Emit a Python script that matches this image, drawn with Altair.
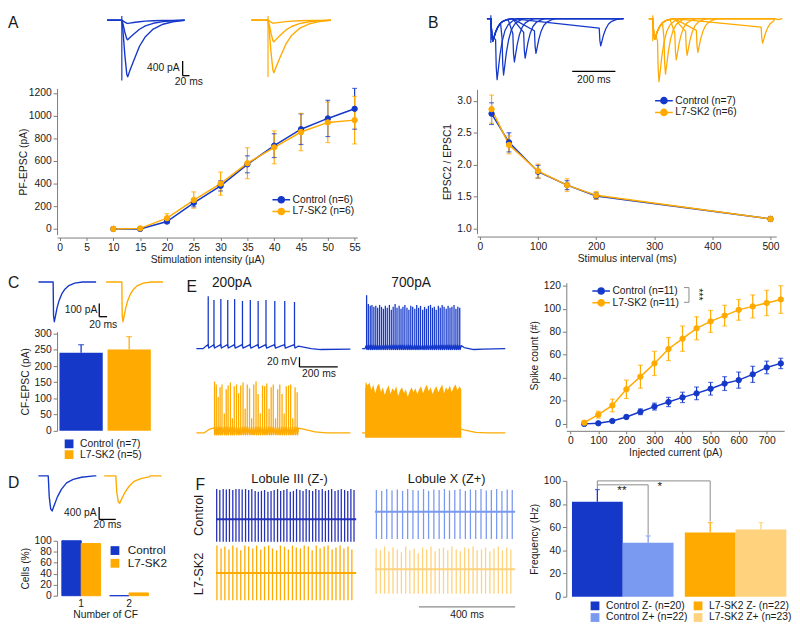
import altair as alt
import pandas as pd

FONT = "Liberation Sans, Arial, sans-serif"
BLUE = "#1538c9"
ORANGE = "#ffaa00"
LBLUE = "#7a99f0"
LORANGE = "#ffd27d"
NAVY = "#2430b8"
GRAY = "#8a8a8a"
TXT = "#1a1a1a"
FS = 10.5

# ---------------- Panel A: PF-EPSC vs stimulation intensity ----------------
A_STIM = [10, 15, 20, 25, 30, 35, 40, 45, 50, 55]
A_CTRL = [0, 0, 65, 230, 380, 570, 735, 880, 975, 1060]
A_CTRL_ERR = [0, 0, 15, 35, 45, 75, 105, 135, 160, 180]
A_SK2 = [0, 5, 95, 255, 400, 580, 720, 855, 940, 960]
A_SK2_ERR = [0, 0, 40, 72, 102, 137, 145, 165, 178, 210]
A_GROUPS = ["Control (n=6)", "L7-SK2 (n=6)"]

# ---------------- Panel B: paired-pulse ratio ----------------
B_ISI = [20, 50, 100, 150, 200, 500]
B_CTRL = [2.80, 2.35, 1.89, 1.68, 1.51, 1.15]
B_CTRL_ERR = [0.17, 0.15, 0.10, 0.07, 0.05, 0.03]
B_SK2 = [2.87, 2.31, 1.90, 1.68, 1.52, 1.15]
B_SK2_ERR = [0.22, 0.14, 0.11, 0.10, 0.06, 0.04]
B_GROUPS = ["Control (n=7)", "L7-SK2 (n=6)"]

# ---------------- Panel C: CF-EPSC amplitude ----------------
C_GROUPS = ["Control (n=7)", "L7-SK2 (n=5)"]
C_VALS = [241, 251]
C_ERR = [25, 40]

# ---------------- Panel D: number of CF ----------------
D_NCF = ["1", "1", "2", "2"]
D_GROUP = ["Control", "L7-SK2", "Control", "L7-SK2"]
D_VALS = [100, 95, 0, 5]

# ---------------- Panel E: spike count vs injected current ----------------
E_CURR = [50, 100, 150, 200, 250, 300, 350, 400, 450, 500, 550, 600, 650, 700, 750]
E_CTRL = [0, 0.5, 2.5, 6, 10.5, 15, 19, 23, 26.5, 30.5, 35, 38, 43, 49, 52.5]
E_CTRL_ERR = [0.5, 1, 1, 1.5, 2.5, 3, 4, 4.5, 5.5, 5.5, 6, 7, 7, 5.5, 4.5]
E_SK2 = [1, 8, 16, 30, 41, 52.5, 65, 74, 83, 89, 94, 99, 102, 105, 108]
E_SK2_ERR = [1.5, 3, 5.5, 8, 10, 10.5, 10, 11, 10, 9.5, 9, 9, 10, 11, 12]
E_GROUPS = ["Control (n=11)", "L7-SK2 (n=11)"]

# ---------------- Panel F: firing frequency ----------------
F_COND = ["Control Z- (n=20)", "Control Z+ (n=22)", "L7-SK2 Z- (n=22)", "L7-SK2 Z+ (n=23)"]
F_GRP = ["Control", "Control", "L7-SK2", "L7-SK2"]
F_ZONE = ["Z-", "Z+", "Z-", "Z+"]
F_VALS = [82, 46.5, 55.5, 58]
F_ERR = [10.5, 6, 8.5, 6]

# ---------------- example traces ----------------
TPL_A_S = [0, 3, 9, 15, 18, 24, 36, 54, 72, 96, 126, 156, 192]
TPL_A_F = [0, 0.15, 0.6, 0.95, 1.0, 0.9, 0.72, 0.46, 0.29, 0.155, 0.07, 0.026, 0]
A_TR_CTRL = [-1550, -534, -85]
A_TR_SK2 = [-1440, -590, -80]
TPL_B_S = [0, 2, 5, 9, 14, 22, 32, 45, 60, 80, 100]
TPL_B_F = [0, 0.35, 0.8, 1.0, 0.85, 0.6, 0.38, 0.2, 0.1, 0.04, 0]
B_TR_ISI = [20, 50, 100, 150, 200, 500]
B_TR_CTRL_A1 = -240
B_TR_CTRL_A2 = [-650, -600, -460, -420, -370, -290]
B_TR_SK2_A1 = -220
B_TR_SK2_A2 = [-670, -590, -440, -390, -360, -260]
TPL_C_S = [0, 1, 3, 6, 10, 15, 22, 30, 40, 55, 75]
TPL_C_F = [0, 0.85, 1.0, 0.85, 0.65, 0.47, 0.3, 0.18, 0.09, 0.03, 0]
C_TR_AMP = [-300, -300]
TPL_D_S = [0, 1.2, 3, 4.7, 7, 11, 16, 22, 30, 40, 55]
TPL_D_F = [0, 0.6, 0.95, 1.0, 0.85, 0.6, 0.38, 0.2, 0.1, 0.04, 0]
D_TR_AMP = [-1140, -890]
E_B200_SPK = [62, 92, 128, 164, 200, 241, 282, 323, 364, 410, 462, 513]
E_B200_PK = [38, 30, 32, 30, 32, 28, 30, 28, 30, 28, 28, 26]
E_B700_SPK = [890, 899, 909, 918, 928, 938, 948, 958, 968, 978, 988, 998, 1009, 1019,
              1029, 1039, 1049, 1060, 1070, 1080, 1090, 1101, 1111, 1121, 1131, 1142,
              1152, 1162, 1172, 1183, 1193, 1203, 1213, 1224, 1234, 1244, 1254, 1265,
              1275, 1285, 1295, 1306, 1316, 1326, 1336, 1347, 1357, 1367, 1377]
E_B700_PK = [40, 22, 18, 20, 16, 18, 14, 20, 16, 12, 18, 14, 20, 10, 16, 22, 14, 18,
             12, 16, 20, 14, 10, 18, 16, 12, 20, 14, 18, 10, 16, 12, 18, 20, 14, 16,
             10, 18, 14, 20, 16, 12, 18, 14, 16, 20, 12, 16, 14]
E_O200_SPK = [95, 104, 114, 124, 134, 146, 156, 166, 178, 188, 198, 210, 221, 232,
              244, 255, 266, 278, 289, 300, 312, 323, 334, 346, 357, 368, 380, 391,
              402, 414, 425, 436, 448, 459, 470, 482, 493, 504, 516, 527]
E_O200_PK = [36, 30, 4, 24, 30, -30, 20, 28, 34, -40, 26, 30, 12, 28, 34, -20, 30, 22,
             -40, 30, 36, 10, -30, 28, 26, 32, -20, 24, 30, -40, 20, 30, 10, -30, 26,
             28, 30, -40, 24, 14]
E_O700_ENV_T = [882, 886, 895, 905, 915, 925, 935, 945, 955, 965, 975, 985, 995, 1005,
                1015, 1025, 1035, 1045, 1055, 1065, 1075, 1085, 1095, 1105, 1115, 1125,
                1135, 1145, 1155, 1165, 1175, 1185, 1195, 1205, 1215, 1225, 1235, 1245,
                1255, 1265, 1275, 1285, 1295, 1305, 1315, 1325, 1335, 1345, 1355, 1365,
                1375, 1385]
E_O700_ENV_V = [20, 36, 28, 34, 18, 30, 12, 26, 32, 14, 24, 8, 20, 28, 10, 22, 16, 26,
                6, 18, 24, 12, 20, 4, 16, 24, 14, 22, 10, 20, 26, 12, 22, 30, 16, 24,
                10, 20, 26, 14, 22, 30, 12, 24, 18, 28, 14, 24, 30, 18, 26, 20]
F_CZM_SPK = [3, 16, 30, 43, 56, 70, 83, 96, 109, 123, 136, 149, 163, 176, 189, 202, 216,
             229, 242, 256, 269, 282, 295, 309, 322, 335, 349, 362, 375, 388, 402, 415,
             428, 442, 455, 468, 481, 495, 508, 521, 535, 548, 561, 574]
F_CZM_UP = [320, 310, 320, 315, 320, 310, 320, 320, 315, 320, 310, 320, 300, 290, 300,
            310, 290, 300, 310, 320, 300, 310, 320, 290, 300, 320, 310, 300, 320, 310,
            300, 320, 310, 320, 300, 310, 320, 300, 310, 320, 310, 300, 320, 310]
F_CZP_SPK = [6, 28, 49, 71, 93, 115, 136, 158, 180, 202, 223, 245, 267, 289, 310, 332,
             354, 376, 397, 419, 441, 463, 484, 506, 528, 550, 571]
F_CZP_UP = [230, 220, 240, 225, 235, 220, 240, 230, 225, 240, 220, 235, 230, 240, 225,
            230, 240, 220, 235, 230, 240, 225, 230, 240, 220, 235, 230]
F_LZM_SPK = [4, 21, 37, 54, 70, 87, 103, 120, 136, 153, 169, 186, 202, 219, 235, 252,
             268, 285, 301, 318, 334, 351, 367, 384, 400, 417, 433, 450, 466, 483, 499,
             516, 532, 549, 565]
F_LZM_UP = [290, 260, 280, 250, 290, 270, 240, 290, 280, 260, 290, 250, 280, 290, 260,
            240, 290, 280, 250, 290, 270, 260, 290, 280, 240, 290, 260, 280, 290, 250,
            270, 290, 260, 280, 250]
F_LZP_SPK = [5, 23, 40, 58, 75, 93, 110, 128, 145, 163, 180, 198, 215, 233, 250, 268,
             285, 303, 320, 338, 355, 373, 390, 408, 425, 443, 460, 478, 495, 513, 530,
             548, 565]
F_LZP_UP = [220, 200, 240, 190, 230, 210, 180, 240, 200, 220, 170, 230, 210, 240, 190,
            220, 230, 200, 240, 210, 190, 230, 220, 240, 200, 210, 230, 190, 220, 240,
            200, 230, 210]

ONE = pd.DataFrame({"k": [0]})
SYM = "M-2,0H2M-0.7,0A0.7,0.7,0,1,1,0.7,0A0.7,0.7,0,1,1,-0.7,0Z"


def sc(d):
    return alt.Scale(domain=d, nice=False, zero=False)


def XY(xd, yd):
    return dict(x=alt.X("t:Q", scale=sc(xd), axis=None),
                y=alt.Y("v:Q", scale=sc(yd), axis=None))


def tline(rows, xd, yd, color, sw=1.4):
    df = pd.DataFrame(rows, columns=["id", "t", "v"])
    return alt.Chart(df).mark_line(color=color, strokeWidth=sw, strokeJoin="round").encode(
        detail="id:N", **XY(xd, yd))


def trules(rows, xd, yd, color, sw=1.2):
    df = pd.DataFrame(rows, columns=["t", "v", "v2"])
    e = XY(xd, yd)
    return alt.Chart(df).mark_rule(color=color, strokeWidth=sw).encode(
        x=e["x"], y=e["y"], y2="v2:Q")


def tarea(rows, xd, yd, color):
    df = pd.DataFrame(rows, columns=["t", "v", "v2"])
    e = XY(xd, yd)
    return alt.Chart(df).mark_area(color=color, opacity=1).encode(x=e["x"], y=e["y"], y2="v2:Q")


def ttext(rows, xd, yd, size=FS, align="center", baseline="middle", angle=0, color=TXT):
    df = pd.DataFrame(rows, columns=["t", "v", "s"])
    kw = dict(font=FONT, fontSize=size, align=align, baseline=baseline, color=color)
    if angle:
        kw["angle"] = angle
    return alt.Chart(df).mark_text(**kw).encode(text="s:N", **XY(xd, yd))


def letter(ch, px, py):
    return alt.Chart(ONE).mark_text(text=ch, font=FONT, fontSize=16, align="left",
                                    baseline="top", color=TXT).encode(
        x=alt.value(px), y=alt.value(py))


def epsc(tid, t0, stim, end, amp, S, F):
    pts = [(tid, t0, 0), (tid, t0 + stim, 0)]
    pts += [(tid, t0 + stim + s, amp * f) for s, f in zip(S, F)]
    pts += [(tid, t0 + end, 0)]
    return pts


def spacer(w, h):
    return alt.Chart(ONE).mark_point(opacity=0).encode(
        x=alt.value(0), y=alt.value(0)).properties(width=w, height=h)


# ======================= Panel A traces =======================
AW = 306
AXD = [-153, -153 + AW * 3]
AYD = [-1735, 150]
rows = []
for i, a in enumerate(A_TR_CTRL):
    rows += epsc("c%d" % i, 0, 45, 237, a, TPL_A_S, TPL_A_F)
a_tr_c = tline(rows, AXD, AYD, BLUE)
rows = []
for i, a in enumerate(A_TR_SK2):
    rows += epsc("s%d" % i, 441, 51, 240, a, TPL_A_S, TPL_A_F)
a_tr_s = tline(rows, AXD, AYD, ORANGE)
a_art = trules([(45, 120, -1650)], AXD, AYD, BLUE)
a_art2 = trules([(492, 120, -1560)], AXD, AYD, ORANGE)
a_bar = tline([("v", 231, -1121), ("v", 231, -1521), ("h", 231, -1521), ("h", 252, -1521)],
              AXD, AYD, "black", 1.3)
a_txt = ttext([(222, -1321, "400 pA")], AXD, AYD, FS, "right")
a_txt2 = ttext([(250, -1560, "20 ms")], AXD, AYD, FS, "center", "top")
A_tr = alt.layer(a_tr_c, a_tr_s, a_art, a_art2, a_bar, a_txt, a_txt2,
                 letter("A", -50, 0)).properties(width=AW, height=70)


def line_err_chart(x, ys, errs, groups, colors, xdom, ydom, xvals, yvals, xtitle, ytitle,
                   w, h, lx, ly, yfmt="d", ytp=4):
    rws = []
    for g, yv, ev in zip(groups, ys, errs):
        for xi, yi, ei in zip(x, yv, ev):
            rws.append({"x": xi, "y": yi, "lo": yi - ei, "hi": yi + ei, "g": g})
    df = pd.DataFrame(rws)
    xs = sc(xdom)
    ysc = sc(ydom)
    cs = alt.Scale(domain=groups, range=colors)
    xax = alt.Axis(values=xvals, title=xtitle, offset=3, labelFlush=False, format="d",
                   titlePadding=2, tickSize=3)
    yax = alt.Axis(values=yvals, title=ytitle, format=yfmt, titlePadding=ytp)
    X = alt.X("x:Q", scale=xs, axis=xax)
    leg = alt.Legend(title=None, orient="none", legendX=lx, legendY=ly, symbolType=SYM,
                     symbolSize=81, symbolStrokeWidth=1.5, labelFontSize=FS,
                     labelFont=FONT, rowPadding=-2, labelOffset=6, padding=0,
                     symbolOpacity=1)
    col = alt.Color("g:N", scale=cs, legend=leg)
    base = alt.Chart(df)
    ebase = base.transform_filter("datum.hi > datum.lo")
    err = ebase.mark_rule(strokeWidth=1.2).encode(
        x=X, y=alt.Y("lo:Q", scale=ysc, axis=yax), y2="hi:Q", color=col)
    caph = ebase.mark_tick(orient="horizontal", size=5, thickness=1.2).encode(
        x=X, y=alt.Y("hi:Q", scale=ysc, axis=yax), color=col)
    capl = ebase.mark_tick(orient="horizontal", size=5, thickness=1.2).encode(
        x=X, y=alt.Y("lo:Q", scale=ysc, axis=yax), color=col)
    line = base.mark_line(strokeWidth=1.5).encode(
        x=X, y=alt.Y("y:Q", scale=ysc, axis=yax), color=col)
    pts = base.mark_point(filled=True, size=30, opacity=1, strokeWidth=1).encode(
        x=X, y=alt.Y("y:Q", scale=ysc, axis=yax), color=col,
        stroke=alt.Stroke("g:N", scale=cs, legend=leg))
    return alt.layer(err, caph, capl, line, pts).properties(width=w, height=h)


A_plot = line_err_chart(A_STIM, [A_CTRL, A_SK2], [A_CTRL_ERR, A_SK2_ERR], A_GROUPS,
                        [BLUE, ORANGE], [-0.5, 55.5], [-50, 1240], list(range(0, 56, 5)),
                        list(range(0, 1201, 200)), "Stimulation intensity (µA)",
                        "PF-EPSC (pA)", AW, 149, 223, 108, ytp=0)

# ======================= Panel B =======================
BW = 305
BXD = [-64, -64 + BW * 4.545]
BYD = [-690, 40]


def ppr_rows(tid, off, a1, a2, isi, end):
    pts = [(tid, off - 18, 0), (tid, off, 0)]
    pts += [(tid, off + s, a1 * f) for s, f in zip(TPL_B_S, TPL_B_F) if s < isi]
    pts += [(tid, off + isi + s, a2 * f) for s, f in zip(TPL_B_S, TPL_B_F) if s > 0]
    pts += [(tid, off + end, 0)]
    return pts


rows = []
for isi, a2 in zip(B_TR_ISI, B_TR_CTRL_A2):
    rows += ppr_rows("c%d" % isi, 0, B_TR_CTRL_A1, a2, isi, 614)
b_tr_c = tline(rows, BXD, BYD, BLUE, 1.3)
rows = []
for isi, a2 in zip(B_TR_ISI, B_TR_SK2_A2):
    rows += ppr_rows("s%d" % isi, 750, B_TR_SK2_A1, a2, isi, 565)
b_tr_s = tline(rows, BXD, BYD, ORANGE, 1.3)
b_art = trules([(0, 35, -260)], BXD, BYD, BLUE)
b_art2 = trules([(750, 35, -240)], BXD, BYD, ORANGE)
b_bar = tline([("h", 377, -560), ("h", 577, -560)], BXD, BYD, "black", 1.3)
b_txt = ttext([(477, -600, "200 ms")], BXD, BYD, FS, "center", "top")
B_tr = alt.layer(b_tr_c, b_tr_s, b_art, b_art2, b_bar, b_txt,
                 letter("B", -50, 0)).properties(width=BW, height=70)

B_plot = line_err_chart(B_ISI, [B_CTRL, B_SK2], [B_CTRL_ERR, B_SK2_ERR], B_GROUPS,
                        [BLUE, ORANGE], [-5, 510], [0.92, 3.18], list(range(0, 501, 100)),
                        [1.0, 1.5, 2.0, 2.5, 3.0], "Stimulus interval (ms)",
                        "EPSC2 / EPSC1", BW, 147, 185, 6, ".1f")

# ======================= Panel C =======================
CXD = [47.5, 292.5]
CYD = [-346, 54]
c_tr = tline(epsc("c", 0, 37.5, 147, C_TR_AMP[0], TPL_C_S, TPL_C_F), CXD, CYD, BLUE)
c_tr2 = tline(epsc("s", 172.5, 40, 145, C_TR_AMP[1], TPL_C_S, TPL_C_F), CXD, CYD, ORANGE)
c_bar = tline([("v", 155, -162), ("v", 155, -262), ("h", 155, -262), ("h", 175, -262)],
              CXD, CYD, "black", 1.3)
c_txt = ttext([(150, -212, "100 pA")], CXD, CYD, FS, "right")
c_txt2 = ttext([(165, -290, "20 ms")], CXD, CYD, FS, "center", "top")
C_tr = alt.layer(c_tr, c_tr2, c_bar, c_txt, c_txt2, letter("C", -50, 0)).properties(
    width=98, height=54)

c_df = pd.DataFrame({"g": C_GROUPS, "v": C_VALS, "e": C_ERR})
c_df["hi"] = c_df["v"] + c_df["e"]
c_cs = alt.Scale(domain=C_GROUPS, range=[BLUE, ORANGE])
c_x = alt.X("g:N", scale=alt.Scale(domain=C_GROUPS, paddingInner=0.1, paddingOuter=0.05),
            axis=None)
c_yax = alt.Axis(values=list(range(0, 301, 50)), title="CF-EPSC (pA)")
c_ys = alt.Scale(domain=[0, 306], nice=False)
c_leg = alt.Legend(title=None, orient="none", legendX=7, legendY=109, symbolType="square",
                   symbolSize=80, labelFontSize=FS, rowPadding=0, padding=0,
                   symbolStrokeWidth=0, labelOffset=6, symbolOpacity=1)
c_col = alt.Color("g:N", scale=c_cs, legend=c_leg)
c_bars = alt.Chart(c_df).mark_bar().encode(
    x=c_x, y=alt.Y("v:Q", scale=c_ys, axis=c_yax), color=c_col)
c_err = alt.Chart(c_df).mark_rule(strokeWidth=1.3).encode(
    x=c_x, y=alt.Y("v:Q", scale=c_ys, axis=c_yax), y2="hi:Q", color=c_col)
c_cap = alt.Chart(c_df).mark_tick(orient="horizontal", size=6, thickness=1.3).encode(
    x=c_x, y=alt.Y("hi:Q", scale=c_ys, axis=c_yax), color=c_col)
C_plot = alt.layer(c_err, c_cap, c_bars).properties(width=98, height=101)

# ======================= Panel D =======================
DXD = [22.4, 138]
DYD = [-1600, 123]
d_tr = tline(epsc("c", 0, 11.8, 69.6, D_TR_AMP[0], TPL_D_S, TPL_D_F), DXD, DYD, BLUE)
d_tr2 = tline(epsc("s", 79, 14, 55.5, D_TR_AMP[1], TPL_D_S, TPL_D_F), DXD, DYD, ORANGE)
d_bar = tline([("v", 73, -1016), ("v", 73, -1417), ("h", 73, -1417), ("h", 93, -1417)],
              DXD, DYD, "black", 1.3)
d_txt = ttext([(70, -1216, "400 pA")], DXD, DYD, FS, "right")
d_txt2 = ttext([(83, -1450, "20 ms")], DXD, DYD, FS, "center", "top")
D_tr = alt.layer(d_tr, d_tr2, d_bar, d_txt, d_txt2, letter("D", -50, 3)).properties(
    width=98, height=54)

d_df = pd.DataFrame({"n": D_NCF, "g": D_GROUP, "v": D_VALS})
d_cs = alt.Scale(domain=["Control", "L7-SK2"], range=[BLUE, ORANGE])
d_leg = alt.Legend(title=None, orient="none", legendX=53, legendY=4, symbolType="square",
                   symbolSize=80, labelFontSize=12, rowPadding=1, padding=0,
                   symbolStrokeWidth=0, labelOffset=7, symbolOpacity=1)
D_plot = alt.Chart(d_df).mark_bar(strokeWidth=1).encode(
    x=alt.X("n:N", scale=alt.Scale(domain=["1", "2"], paddingInner=0.19, paddingOuter=0.1),
            axis=alt.Axis(title="Number of CF", labelAngle=0, domain=False, ticks=False,
                          labelPadding=3, titlePadding=1)),
    xOffset=alt.XOffset("g:N", scale=alt.Scale(domain=["Control", "L7-SK2"])),
    y=alt.Y("v:Q", scale=alt.Scale(domain=[0, 100], nice=False),
            axis=alt.Axis(values=list(range(0, 101, 20)), title="Cells (%)")),
    color=alt.Color("g:N", scale=d_cs, legend=d_leg),
    stroke=alt.Stroke("g:N", scale=d_cs, legend=None),
).properties(width=98, height=56)

# ======================= Panel E traces =======================
EW = 318
EXD = [-5, -5 + EW * 5.13]
EYD = [-262, 82]
OFF = -174
mem = [("b200", 0, -70), ("b200", 36, -70), ("b200", 50, -65)]
for t in E_B200_SPK:
    mem += [("b200", t - 1, -62), ("b200", t + 3, -69)]
mem += [("b200", 534, -65), ("b200", 560, -67), ("b200", 600, -70), ("b200", 650, -72),
        ("b200", 805, -71)]
mem += [("b700", 867, -70), ("b700", 882, -70), ("b700", 886, -66)]
for t in E_B700_SPK:
    mem += [("b700", t - 1, -63), ("b700", t + 2, -72)]
mem += [("b700", 1385, -64), ("b700", 1400, -68), ("b700", 1450, -72), ("b700", 1500, -71),
        ("b700", 1615, -70)]
e_bmem = tline(mem, EXD, EYD, BLUE, 1.3)
spk = [(t, -66, p) for t, p in zip(E_B200_SPK, E_B200_PK)]
spk += [(t, -72, p) for t, p in zip(E_B700_SPK, E_B700_PK)]
e_bspk = trules(spk, EXD, EYD, BLUE, 1.3)

omem = [("o200", 0, -70 + OFF), ("o200", 40, -70 + OFF), ("o200", 70, -62 + OFF),
        ("o200", 90, -60 + OFF)]
for t in E_O200_SPK:
    omem += [("o200", t - 1, -58 + OFF), ("o200", t + 2, -74 + OFF)]
omem += [("o200", 534, -60 + OFF), ("o200", 560, -62 + OFF), ("o200", 620, -68 + OFF),
         ("o200", 680, -70 + OFF), ("o200", 805, -70 + OFF)]
omem += [("o700a", 867, -70 + OFF), ("o700a", 882, -70 + OFF)]
omem += [("o700b", 1385, -62 + OFF), ("o700b", 1410, -65 + OFF), ("o700b", 1460, -69 + OFF),
         ("o700b", 1520, -70 + OFF), ("o700b", 1615, -70 + OFF)]
e_omem = tline(omem, EXD, EYD, ORANGE, 1.3)
ospk = [(t, -74 + OFF, p + OFF) for t, p in zip(E_O200_SPK, E_O200_PK)]
e_ospk = trules(ospk, EXD, EYD, ORANGE, 1.3)
e_oarea = tarea([(t, v + OFF, -80 + OFF) for t, v in zip(E_O700_ENV_T, E_O700_ENV_V)],
                EXD, EYD, ORANGE)
e_bar = tline([("v", 539, -88), ("v", 539, -108), ("h", 539, -108), ("h", 739, -108)],
              EXD, EYD, "black", 1.3)
e_txt = ttext([(525, -97, "20 mV")], EXD, EYD, FS, "right")
e_txt2 = ttext([(641, -112, "200 ms")], EXD, EYD, FS, "center", "top")
e_lab = ttext([(185, 66, "200pA"), (1123, 66, "700pA")], EXD, EYD, 14)
E_tr = alt.layer(e_bmem, e_bspk, e_omem, e_ospk, e_oarea, e_bar, e_txt, e_txt2, e_lab,
                 letter("E", -9, 4)).properties(width=EW, height=170)

E_plot = line_err_chart(E_CURR, [E_CTRL, E_SK2], [E_CTRL_ERR, E_SK2_ERR], E_GROUPS,
                        [BLUE, ORANGE], [-14, 762], [-3.5, 122.6], list(range(0, 701, 100)),
                        list(range(0, 121, 20)), "Injected current (pA)", "Spike count (#)",
                        222, 148, 30, 3)
e_brk = alt.Chart(ONE).mark_rule(color=GRAY, strokeWidth=1).encode(
    x=alt.value(125), y=alt.value(5), y2=alt.value(20))
e_brk2 = alt.Chart(ONE).mark_rule(color=GRAY, strokeWidth=1).encode(
    x=alt.value(120), x2=alt.value(125), y=alt.value(5))
e_brk3 = alt.Chart(ONE).mark_rule(color=GRAY, strokeWidth=1).encode(
    x=alt.value(120), x2=alt.value(125), y=alt.value(20))
e_star = alt.Chart(ONE).mark_text(text="***", font=FONT, fontSize=11, angle=90,
                                  color=TXT).encode(x=alt.value(134), y=alt.value(12))
E_plot = alt.layer(E_plot, e_brk, e_brk2, e_brk3, e_star)

# ======================= Panel F traces =======================
FW = 320
FXD = [-61, -61 + FW * 4.08]
FYD = [-1040, 500]
P = 661
fl = []
fl += [("czm", 0, 0), ("czm", 583, 0)]
fl += [("czp", P, 80), ("czp", P + 583, 80)]
fl += [("lzm", 0, -570), ("lzm", 583, -570)]
fl += [("lzp", P, -530), ("lzp", P + 583, -530)]
f_czm = trules([(t, -240, u) for t, u in zip(F_CZM_SPK, F_CZM_UP)], FXD, FYD, NAVY, 1.3)
f_czp = trules([(P + t, 80 - 290, 80 + u) for t, u in zip(F_CZP_SPK, F_CZP_UP)], FXD, FYD,
               LBLUE, 1.3)
f_lzm = trules([(t, -570 - 290, -570 + u) for t, u in zip(F_LZM_SPK, F_LZM_UP)], FXD, FYD,
               ORANGE, 1.3)
f_lzp = trules([(P + t, -530 - 260, -530 + u) for t, u in zip(F_LZP_SPK, F_LZP_UP)], FXD,
               FYD, LORANGE, 1.3)
f_b1 = tline([r for r in fl if r[0] == "czm"], FXD, FYD, NAVY, 2)
f_b2 = tline([r for r in fl if r[0] == "czp"], FXD, FYD, LBLUE, 2)
f_b3 = tline([r for r in fl if r[0] == "lzm"], FXD, FYD, ORANGE, 2)
f_b4 = tline([r for r in fl if r[0] == "lzp"], FXD, FYD, LORANGE, 2)
f_bar = tline([("h", 844, -930), ("h", 1244, -930)], FXD, FYD, GRAY, 1.3)
f_txt = ttext([(1044, -960, "400 ms")], FXD, FYD, FS, "center", "top")
f_lab = ttext([(306, 430, "Lobule III (Z-)"), (959, 430, "Lobule X (Z+)")], FXD, FYD, 13)
f_row = ttext([(-69, 40, "Control"), (-69, -580, "L7-SK2")], FXD, FYD, 13, angle=270)
F_tr = alt.layer(f_b1, f_b2, f_b3, f_b4, f_czm, f_czp, f_lzm, f_lzp, f_bar, f_txt, f_lab,
                 f_row, letter("F", -6, 5)).properties(width=FW, height=148)

# ======================= Panel F bars =======================
f_df = pd.DataFrame({"c": F_COND, "grp": F_GRP, "z": F_ZONE, "v": F_VALS, "e": F_ERR})
f_df["hi"] = f_df["v"] + f_df["e"]
f_cs = alt.Scale(domain=F_COND, range=[BLUE, LBLUE, ORANGE, LORANGE])
f_x = alt.X("grp:N", scale=alt.Scale(domain=["Control", "L7-SK2"], paddingInner=0.1,
                                     paddingOuter=0.05), axis=None)
f_xo = alt.XOffset("z:N", scale=alt.Scale(domain=["Z-", "Z+"]))
f_ys = alt.Scale(domain=[0, 100], nice=False)
f_yax = alt.Axis(values=list(range(0, 101, 20)), title="Frequency (Hz)")
f_leg = alt.Legend(title=None, orient="none", legendX=24, legendY=122, columns=2,
                   symbolType="square", symbolSize=80, labelFontSize=FS, rowPadding=1,
                   columnPadding=5, padding=0, symbolStrokeWidth=0, labelOffset=6,
                   symbolOpacity=1)
f_col = alt.Color("c:N", scale=f_cs, legend=f_leg)
f_bars = alt.Chart(f_df).mark_bar().encode(
    x=f_x, xOffset=f_xo, y=alt.Y("v:Q", scale=f_ys, axis=f_yax), color=f_col)
f_err = alt.Chart(f_df).mark_rule(strokeWidth=1.3).encode(
    x=f_x, xOffset=f_xo, y=alt.Y("v:Q", scale=f_ys, axis=f_yax), y2="hi:Q", color=f_col)
f_cap = alt.Chart(f_df).mark_tick(orient="horizontal", size=5, thickness=1.3).encode(
    x=f_x, xOffset=f_xo, y=alt.Y("hi:Q", scale=f_ys, axis=f_yax), color=f_col)
BRK_B = ["b1", "b1", "b1", "b1", "b2", "b2", "b2"]
BRK_G = ["Control", "Control", "L7-SK2", "L7-SK2", "Control", "Control", "Control"]
BRK_Z = ["Z-", "Z-", "Z-", "Z-", "Z-", "Z+", "Z+"]
BRK_V = [93, 100, 100, 65, 96.6, 96.6, 53]
BRK_O = [0, 1, 2, 3, 0, 1, 2]
brk_df = pd.DataFrame({"b": BRK_B, "grp": BRK_G, "z": BRK_Z, "v": BRK_V, "o": BRK_O})
f_brk = alt.Chart(brk_df).mark_line(color=GRAY, strokeWidth=1).encode(
    x=f_x, xOffset=f_xo, y=alt.Y("v:Q", scale=f_ys, axis=f_yax), detail="b:N", order="o:Q")
st1 = pd.DataFrame({"grp": ["Control"], "z": ["Z-"], "v": [96], "s": ["**"]})
st2 = pd.DataFrame({"grp": ["Control"], "z": ["Z+"], "v": [99.5], "s": ["*"]})
f_st1 = alt.Chart(st1).mark_text(font=FONT, fontSize=12, baseline="top", dx=25,
                                 color=TXT).encode(
    x=f_x, xOffset=f_xo, y=alt.Y("v:Q", scale=f_ys, axis=f_yax), text="s:N")
f_st2 = alt.Chart(st2).mark_text(font=FONT, fontSize=12, baseline="top", dx=12,
                                 color=TXT).encode(
    x=f_x, xOffset=f_xo, y=alt.Y("v:Q", scale=f_ys, axis=f_yax), text="s:N")
F_plot = alt.layer(f_err, f_cap, f_bars, f_brk, f_st1, f_st2).properties(width=230, height=118)

# ======================= layout =======================
RES = dict(color="independent", fill="independent", stroke="independent",
           xOffset="independent")


def vc(*ch, spacing, bounds="full"):
    return alt.vconcat(*ch, spacing=spacing, bounds=bounds).resolve_scale(**RES)


def hc(*ch, spacing):
    return alt.hconcat(*ch, spacing=spacing).resolve_scale(**RES)


colA = vc(A_tr, A_plot, spacing=5, bounds="flush")
colB = vc(B_tr, B_plot, spacing=6, bounds="flush")
colC = vc(C_tr, C_plot, spacing=4, bounds="flush")
colE = vc(spacer(222, 1), E_plot, spacing=7, bounds="flush")
colD = vc(D_tr, D_plot, spacing=16, bounds="flush")
colF = vc(spacer(230, 1), F_plot, spacing=8, bounds="flush")

row1 = hc(colA, colB, spacing=68)
row2 = hc(colC, hc(E_tr, colE, spacing=22), spacing=23)
row3 = hc(colD, hc(F_tr, colF, spacing=13), spacing=26)
chart = vc(row1, vc(row2, row3, spacing=9), spacing=7).properties(padding=0)
chart = chart.configure_view(stroke=None).configure_axis(
    labelFont=FONT, titleFont=FONT, labelFontSize=FS, titleFontSize=FS,
    titleFontWeight="normal", labelColor=TXT, titleColor=TXT, domainColor="#7a7a7a",
    tickColor="#7a7a7a", grid=False, tickSize=4, labelPadding=2
).configure_legend(labelFont=FONT, labelColor=TXT)

chart.save("out.html", embed_options={"renderer": "svg", "actions": False})
